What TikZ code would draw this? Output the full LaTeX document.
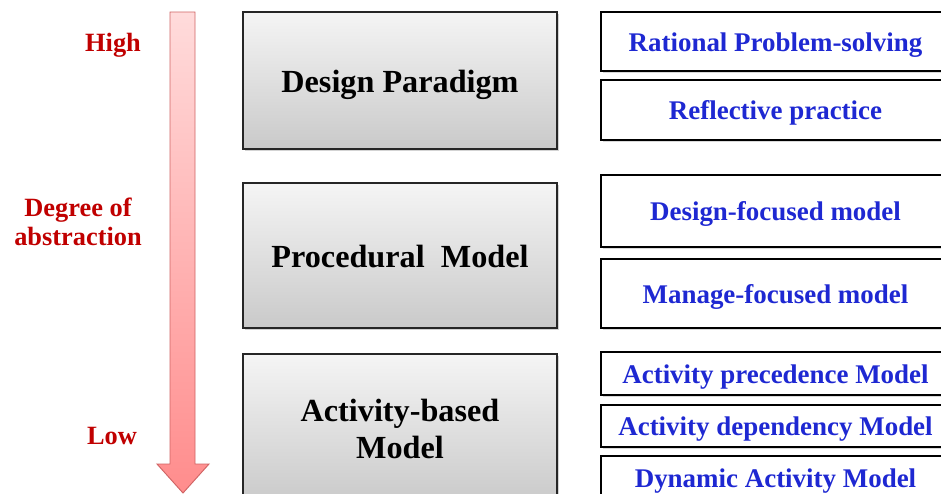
\documentclass[tikz,border=0pt]{standalone}
\usepackage{fontspec}
\setmainfont{Liberation Serif}
\usetikzlibrary{shadows}
\usepackage{xcolor}
\definecolor{txtred}{RGB}{192,0,0}
\definecolor{txtblue}{RGB}{30,40,210}
\definecolor{arrowline}{RGB}{208,100,100}

\tikzset{
  levelbox/.style={draw=black!85, line width=1pt, top color=gray!8, bottom color=gray!42,
    drop shadow={shadow xshift=2pt, shadow yshift=-2pt, opacity=0.35},
    minimum width=9.42cm, align=center, font=\bfseries\fontsize{27.5}{30}\selectfont},
  oneline/.style={text height=22.5pt, text depth=2pt},
  modelbox/.style={draw=black, line width=1.6pt, fill=white, minimum width=10.47cm,
    drop shadow={shadow xshift=1.5pt, shadow yshift=-1.5pt, opacity=0.3},
    text height=18.6pt, text depth=2pt,
    text=txtblue, font=\bfseries\fontsize{23}{26}\selectfont},
  scalelabel/.style={text=txtred, align=center, font=\bfseries\fontsize{22.5}{25}\selectfont}
}

\begin{document}
\begin{tikzpicture}[x=0.03cm, y=-0.03cm]
		\useasboundingbox (0,0) rectangle (941,493);
		\clip (0,0) rectangle (941,493);
		
		% abstraction arrow
		\shade[top color=red!14, bottom color=red!45, draw=arrowline, line width=0.8pt]
			(170,12) -- (195,12) -- (195,464) -- (209,464) -- (183,493) -- (157,464) -- (170,464) -- cycle;
		
		\node[scalelabel] (high) at (113,45) {High};
		\node[scalelabel] (degree) at (78,222) {Degree of\\abstraction};
		\node[scalelabel] (low) at (112,436) {Low};
		
		% levels
		\node[levelbox, oneline, minimum height=4.11cm] (paradigm) at (400,80.5) {Design Paradigm};
		\node[levelbox, oneline, minimum height=4.35cm] (procedural) at (400,255.5) {Procedural~ Model};
		\node[levelbox, minimum height=4.5cm] (activity) at (400,429) {Activity-based\\[1pt]Model};
		
		% models
		\node[modelbox, minimum height=1.77cm] (rational) at (775.5,41.5) {Rational Problem-solving};
		\node[modelbox, minimum height=1.8cm] (reflective) at (775.5,110) {Reflective practice};
		\node[modelbox, minimum height=2.16cm] (designfocus) at (775.5,211) {Design-focused model};
		\node[modelbox, minimum height=2.07cm] (managefocus) at (775.5,293.5) {Manage-focused model};
		\node[modelbox, minimum height=1.29cm] (precedence) at (775.5,373.5) {Activity precedence Model};
		\node[modelbox, minimum height=1.26cm] (dependency) at (775.5,426) {Activity dependency Model};
		\node[modelbox, minimum height=1.32cm] (dynamic) at (775.5,478) {Dynamic Activity Model};
	\end{tikzpicture}
\end{document}
